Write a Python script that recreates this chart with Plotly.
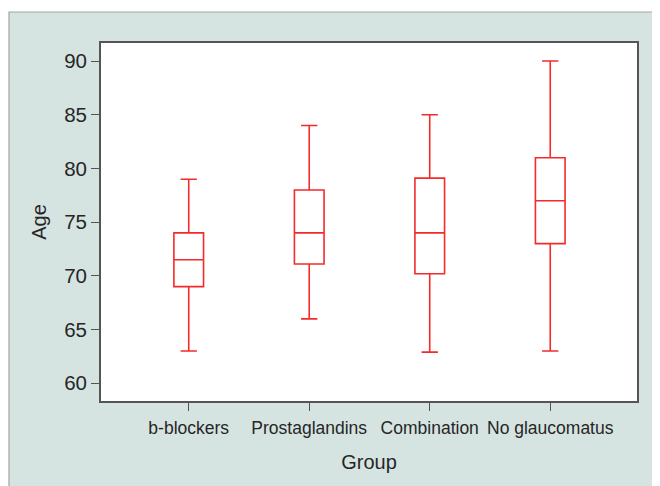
import plotly.graph_objects as go

groups = ["b-blockers", "Prostaglandins", "Combination", "No glaucomatus"]
lower = [63, 66, 62.9, 63]
q1 = [69, 71.1, 70.2, 73]
median = [71.5, 74, 74, 77]
q3 = [74, 78, 79.1, 81]
upper = [79, 84, 85, 90]
y_ticks = [60, 65, 70, 75, 80, 85, 90]

RED = "#f32b2b"
PANEL = "#d6e4e1"
AXIS = "#555555"
FONT = "Liberation Sans, Arial, sans-serif"

fig = go.Figure()
fig.add_trace(go.Box(
    x=groups, q1=q1, median=median, q3=q3,
    lowerfence=lower, upperfence=upper,
    width=0.246, whiskerwidth=0.55,
    line=dict(color=RED, width=1.6),
    fillcolor="rgba(0,0,0,0)",
    boxpoints=False, hoverinfo="skip", showlegend=False,
))

# page has an 8px body margin, so the figure sits at (8, 8)
W, H = 652, 478
L, R, T, B = 93, 23, 35, 85
pw, ph = W - L - R, H - T - B
px0 = (1 - L) / pw
py1 = (H - B - 4) / ph

fig.update_layout(
    width=W, height=H,
    margin=dict(l=L, r=R, t=T, b=B, pad=0),
    paper_bgcolor="white",
    plot_bgcolor="white",
    font=dict(family=FONT, color="#262626"),
    shapes=[
        dict(type="rect", xref="paper", yref="paper", x0=px0, x1=1.3, y0=-0.5, y1=py1,
             fillcolor=PANEL, line=dict(color="#a3a3a3", width=1.2), layer="below"),
        dict(type="rect", xref="paper", yref="paper", x0=0, x1=1, y0=0, y1=1,
             fillcolor="white", line=dict(width=0), layer="below"),
    ],
    xaxis=dict(
        type="category", range=[-0.728, 3.72],
        showline=True, linecolor=AXIS, linewidth=1.8, mirror=True,
        ticks="outside", ticklen=8, tickcolor=AXIS, tickwidth=1.2,
        ticklabelstandoff=2,
        showgrid=False, zeroline=False,
        tickfont=dict(size=17.5, family=FONT, color="#262626"),
        title=dict(text="Group", font=dict(size=20, family=FONT, color="#262626"), standoff=18),
    ),
    yaxis=dict(
        range=[58.35, 91.68], tickvals=y_ticks,
        showline=True, linecolor=AXIS, linewidth=1.8, mirror=True,
        ticks="outside", ticklen=8, tickcolor=AXIS, tickwidth=1.2,
        showgrid=False, zeroline=False,
        tickfont=dict(size=20.5, family=FONT, color="#262626"),
        title=dict(text="Age", font=dict(size=20, family=FONT, color="#262626"), standoff=12),
    ),
)

fig.write_html("out.html")
